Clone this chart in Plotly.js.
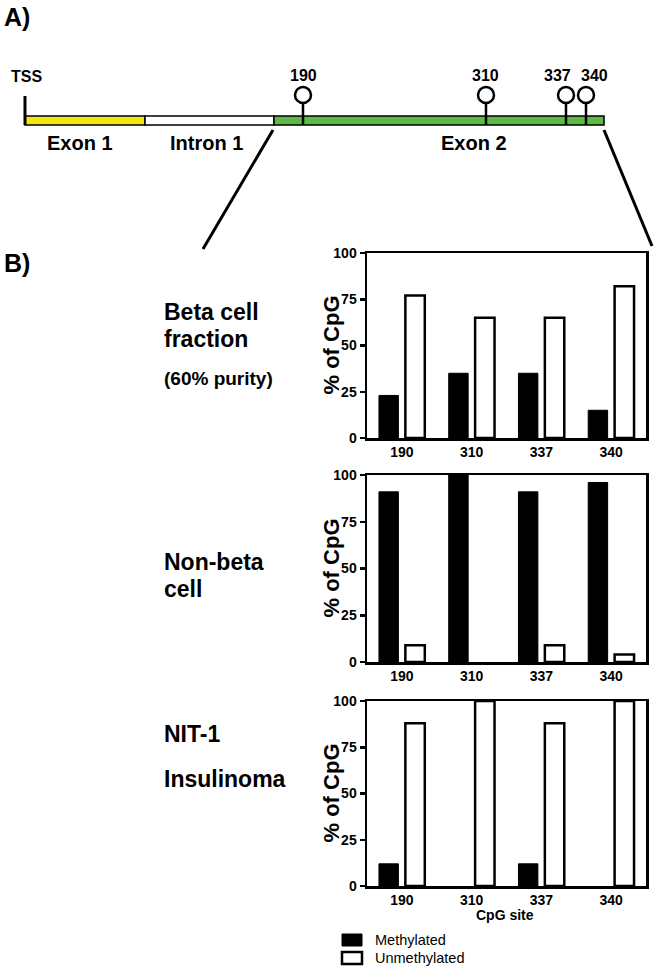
<!DOCTYPE html>
<html>
<head>
<meta charset="utf-8">
<script src="https://cdn.plot.ly/plotly-3.0.1.min.js"></script>
<style>html,body{margin:0;padding:0;background:#fff;}#chart{width:657px;height:971px;}</style>
</head>
<body>
<div id="chart"></div>
<script>
// ---- data ----
const sites = ['190', '310', '337', '340'];
const betaMethylated = [23, 35, 35, 15];
const betaUnmethylated = [77, 65, 65, 82];
const nonBetaMethylated = [91, 100, 91, 96];
const nonBetaUnmethylated = [9, 0, 9, 4];
const nitMethylated = [12, 0, 12, 0];
const nitUnmethylated = [88, 100, 88, 100];
const yTicks = [0, 25, 50, 75, 100];
const seriesNames = ['Methylated', 'Unmethylated'];
const panelLabels = [['Beta cell', 'fraction', '(60% purity)'], ['Non-beta', 'cell'], ['NIT-1', 'Insulinoma']];
const geneParts = ['Exon 1', 'Intron 1', 'Exon 2'];

// ---- layout helpers (pixel -> paper) ----
const W = 657, H = 971;
const X = p => p / W;
const Y = p => 1 - p / H;
const FONT = 'Liberation Sans, Arial, sans-serif';

const panels = [
  {m: betaMethylated, u: betaUnmethylated, top: 253, bot: 438},
  {m: nonBetaMethylated, u: nonBetaUnmethylated, top: 475, bot: 662},
  {m: nitMethylated, u: nitUnmethylated, top: 701, bot: 886}
];
const plotL = 367, plotR = 646;

const data = [];
const layout = {
  width: W, height: H,
  margin: {l: 0, r: 0, t: 0, b: 0},
  paper_bgcolor: '#fff', plot_bgcolor: '#fff',
  showlegend: false,
  barmode: 'group',
  bargap: 0.243,
  bargroupgap: 0.264,
  font: {family: FONT, color: '#000'},
  shapes: [],
  annotations: []
};

panels.forEach((p, i) => {
  const n = i === 0 ? '' : String(i + 1);
  data.push({
    type: 'bar', x: sites, y: p.m, name: seriesNames[0],
    xaxis: 'x' + n, yaxis: 'y' + n,
    marker: {color: '#000', line: {color: '#000', width: p.m.map(v => v > 0 ? 1 : 0)}},
    hoverinfo: 'x+y+name'
  });
  data.push({
    type: 'bar', x: sites, y: p.u, name: seriesNames[1],
    xaxis: 'x' + n, yaxis: 'y' + n,
    marker: {color: '#fff', line: {color: '#000', width: p.u.map(v => v > 0 ? 2.5 : 0)}},
    hoverinfo: 'x+y+name'
  });
  layout['xaxis' + n] = {
    domain: [X(plotL), X(plotR)], anchor: 'y' + n,
    type: 'category', categoryorder: 'array', categoryarray: sites,
    showline: true, mirror: true, linecolor: '#000', linewidth: 2.5,
    ticks: '', showgrid: false, zeroline: false,
    tickfont: {family: FONT, size: 14, weight: 'bold', color: '#000'},
    fixedrange: true
  };
  layout['yaxis' + n] = {
    domain: [Y(p.bot), Y(p.top)], anchor: 'x' + n,
    range: [0, 100], tickvals: yTicks, ticktext: yTicks.map(String),
    ticks: 'outside', ticklen: 5, tickwidth: 2.5, tickcolor: '#000',
    showline: true, mirror: true, linecolor: '#000', linewidth: 2.5,
    showgrid: false, zeroline: false,
    tickfont: {family: FONT, size: 14, weight: 'bold', color: '#000'},
    fixedrange: true
  };
  layout.annotations.push({
    xref: 'paper', yref: 'paper', x: X(331), y: Y((p.top + p.bot) / 2),
    text: '% of CpG', textangle: -90, showarrow: false,
    xanchor: 'center', yanchor: 'middle',
    font: {family: FONT, size: 22, weight: 'bold', color: '#000'}
  });
});

// x-axis title of bottom panel
layout.annotations.push({
  xref: 'paper', yref: 'paper', x: X(505), y: Y(915),
  text: 'CpG site', showarrow: false, xanchor: 'center', yanchor: 'middle',
  font: {family: FONT, size: 14, weight: 'bold', color: '#000'}
});

// panel labels on the left
const labelRows = [[312, 339, 378], [562, 589], [734, 779]];
panelLabels.forEach((lines, i) => {
  lines.forEach((t, j) => {
    const small = t.startsWith('(');
    layout.annotations.push({
      xref: 'paper', yref: 'paper', x: X(162), y: Y(labelRows[i][j]),
      text: t, showarrow: false, xanchor: 'left', yanchor: 'middle',
      font: {family: FONT, size: small ? 19 : 23, weight: 'bold', color: '#000'}
    });
  });
});

// A) / B)
[['A)', 17], ['B)', 263]].forEach(([t, yy]) => {
  layout.annotations.push({
    xref: 'paper', yref: 'paper', x: X(2), y: Y(yy),
    text: t, showarrow: false, xanchor: 'left', yanchor: 'middle',
    font: {family: FONT, size: 25, weight: 'bold', color: '#000'}
  });
});

// ---- gene schematic (panel A) ----
const barTop = 116, barBot = 125;
const segs = [[25, 145, '#f3e616'], [145, 274, '#ffffff'], [274, 604, '#5fb948']];
segs.forEach(([a, b, c]) => {
  layout.shapes.push({type: 'rect', xref: 'paper', yref: 'paper',
    x0: X(a), x1: X(b), y0: Y(barBot), y1: Y(barTop),
    fillcolor: c, line: {color: '#000', width: 1.5}});
});
const partCenters = [80, 206, 474];
geneParts.forEach((t, i) => {
  layout.annotations.push({xref: 'paper', yref: 'paper', x: X(partCenters[i]), y: Y(143),
    text: t, showarrow: false, xanchor: 'center', yanchor: 'middle',
    font: {family: FONT, size: 20, weight: 'bold', color: '#000'}});
});
// TSS
layout.shapes.push({type: 'line', xref: 'paper', yref: 'paper',
  x0: X(25), x1: X(25), y0: Y(96), y1: Y(barBot), line: {color: '#000', width: 3}});
layout.annotations.push({xref: 'paper', yref: 'paper', x: X(26), y: Y(77),
  text: 'TSS', showarrow: false, xanchor: 'center', yanchor: 'middle',
  font: {family: FONT, size: 16, weight: 'bold', color: '#000'}});
// CpG lollipops
const stemX = [303, 486, 566, 586];
const labelX = [303, 485, 557, 594];
sites.forEach((s, i) => {
  const cx = stemX[i];
  layout.shapes.push({type: 'line', xref: 'paper', yref: 'paper',
    x0: X(cx), x1: X(cx), y0: Y(103), y1: Y(barBot), line: {color: '#000', width: 2.5}});
  layout.shapes.push({type: 'circle', xref: 'paper', yref: 'paper',
    x0: X(cx - 8), x1: X(cx + 8), y0: Y(103), y1: Y(87),
    fillcolor: '#fff', line: {color: '#000', width: 2.5}});
  layout.annotations.push({xref: 'paper', yref: 'paper', x: X(labelX[i]), y: Y(76),
    text: s, showarrow: false, xanchor: 'center', yanchor: 'middle',
    font: {family: FONT, size: 16, weight: 'bold', color: '#000'}});
});
// zoom lines
layout.shapes.push({type: 'line', xref: 'paper', yref: 'paper',
  x0: X(273), y0: Y(130), x1: X(203), y1: Y(249), line: {color: '#000', width: 3}});
layout.shapes.push({type: 'line', xref: 'paper', yref: 'paper',
  x0: X(604), y0: Y(130), x1: X(652), y1: Y(246), line: {color: '#000', width: 3}});

// ---- legend ----
const legY = [940, 958];
seriesNames.forEach((t, i) => {
  layout.shapes.push({type: 'rect', xref: 'paper', yref: 'paper',
    x0: X(342), x1: X(362), y0: Y(legY[i] + 6), y1: Y(legY[i] - 6),
    fillcolor: i === 0 ? '#000' : '#fff', line: {color: '#000', width: i === 0 ? 1 : 2.5}});
  layout.annotations.push({xref: 'paper', yref: 'paper', x: X(373), y: Y(legY[i]),
    text: t, showarrow: false, xanchor: 'left', yanchor: 'middle',
    font: {family: FONT, size: 14.5, color: '#000'}});
});

Plotly.newPlot('chart', data, layout, {displayModeBar: false, staticPlot: true});
</script>
</body>
</html>
